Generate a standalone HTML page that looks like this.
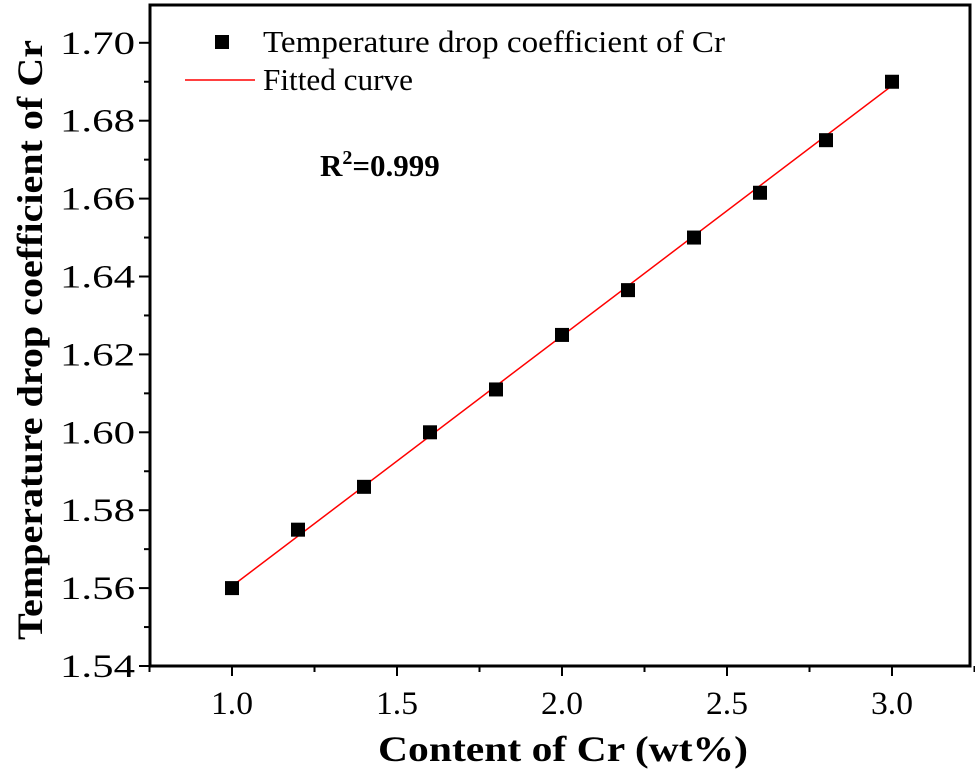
<!DOCTYPE html>
<html><head><meta charset="utf-8"><style>
body{margin:0;background:#fff}
svg text{font-family:"Liberation Serif",serif;fill:#000}
</style></head><body>
<svg width="975" height="777">
<g id="g"></g>
</svg>
<script>
const xs=[1.0,1.2,1.4,1.6,1.8,2.0,2.2,2.4,2.6,2.8,3.0];
const ys=[1.560,1.575,1.586,1.600,1.611,1.625,1.6365,1.650,1.6615,1.675,1.690];
const xTicks=[1.0,1.5,2.0,2.5,3.0];
const xTickLabels=["1.0","1.5","2.0","2.5","3.0"];
const yTicks=[1.54,1.56,1.58,1.60,1.62,1.64,1.66,1.68,1.70];
const yTickLabels=["1.54","1.56","1.58","1.60","1.62","1.64","1.66","1.68","1.70"];
const fit=[1.5605,1.6890];
const X=v=>232+(v-1)*330;
const Y=v=>666-(v-1.54)*3895;
const NS="http://www.w3.org/2000/svg";
const g=document.getElementById('g');
function el(t,a,txt){const e=document.createElementNS(NS,t);for(const k in a)e.setAttribute(k,a[k]);if(txt!=null)e.textContent=txt;g.appendChild(e);return e;}
let e;
e=el('rect',{x:150,y:5,width:820,height:661,fill:'none',stroke:'#000','stroke-width':3});

for(let v=0.75;v<=3.25+1e-9;v+=0.25){const big=Math.abs(v*2-Math.round(v*2))<1e-6;
e=el('line',{x1:X(v),x2:X(v),y1:666,y2:666+(big?10:6),stroke:'#000','stroke-width':2});
}
xTicks.forEach((v,i)=>{e=el('text',{x:X(v)-21,y:714,'font-size':33,textLength:42,lengthAdjust:'spacingAndGlyphs'},xTickLabels[i]);
});
for(let v=1.54;v<=1.709;v+=0.01){const big=Math.round(v*100)%2===0;
e=el('line',{x1:150-(big?11:6),x2:150,y1:Y(v),y2:Y(v),stroke:'#000','stroke-width':2});
}
yTicks.forEach((v,i)=>{e=el('text',{x:60,y:Y(v)+11,'font-size':33,textLength:75,lengthAdjust:'spacingAndGlyphs'},yTickLabels[i]);
});
e=el('line',{x1:X(xs[0]),y1:Y(fit[0]),x2:X(xs[xs.length-1]),y2:Y(fit[1]),stroke:'#f00','stroke-width':1.5});

xs.forEach((v,i)=>{e=el('rect',{x:X(v)-7,y:Y(ys[i])-7,width:14,height:14,fill:'#000'});
});
e=el('rect',{x:215,y:35,width:14,height:14,fill:'#000'});

e=el('text',{x:263,y:52,'font-size':31,textLength:462,lengthAdjust:'spacingAndGlyphs'},'Temperature drop coefficient of Cr');

e=el('line',{x1:185,x2:255,y1:80,y2:80,stroke:'#f00','stroke-width':1.5});

e=el('text',{x:263,y:90,'font-size':31,textLength:150,lengthAdjust:'spacingAndGlyphs'},'Fitted curve');

e=el('text',{x:320,y:176,'font-size':31,'font-weight':'bold'},'');
e.innerHTML='R<tspan dy="-12" font-size="20">2</tspan><tspan dy="12">=0.999</tspan>';

e=el('text',{x:378,y:761,'font-size':36,'font-weight':'bold',textLength:370,lengthAdjust:'spacingAndGlyphs'},'Content  of Cr (wt%)');

e=el('text',{x:0,y:0,'font-size':36,'font-weight':'bold',textLength:600,lengthAdjust:'spacingAndGlyphs',transform:'translate(42,640) rotate(-90)'},'Temperature drop coefficient of Cr');

</script>
</body></html>
